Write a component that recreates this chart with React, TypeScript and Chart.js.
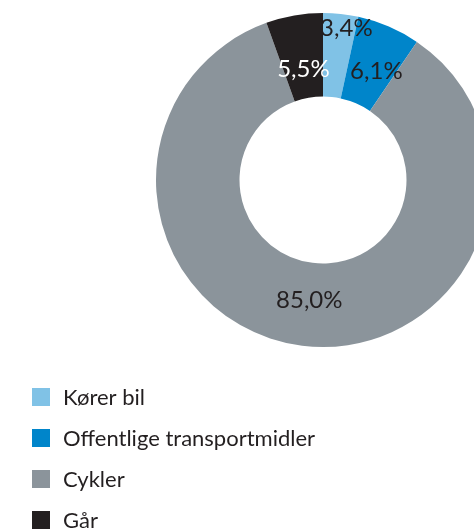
import React, { useEffect, useRef } from "react";
import { Chart, registerables } from "chart.js";

Chart.register(...registerables);

const categories = ["Kører bil", "Offentlige transportmidler", "Cykler", "Går"];
const values = [3.4, 6.1, 85.0, 5.5];
const valueLabels = ["3,4%", "6,1%", "85,0%", "5,5%"];
const colors = ["#80c2e6", "#0085ca", "#8b949b", "#231f20"];
const labelColors = ["#231f20", "#231f20", "#231f20", "#ffffff"];
// label nudges relative to the slice centroid (style only)
const labelNudges = [
  [10, -27],
  [4, 6],
  [2, -4],
  [2, 13],
];

const FONT = "Lato, 'Open Sans', sans-serif";

const labelPlugin = {
  id: "sliceLabels",
  afterDatasetsDraw(chart: any) {
    const ctx = chart.ctx;
    const meta = chart.getDatasetMeta(0);
    ctx.save();
    ctx.font = `24px ${FONT}`;
    ctx.textAlign = "center";
    ctx.textBaseline = "middle";
    meta.data.forEach((arc: any, i: number) => {
      const p = arc.tooltipPosition();
      ctx.fillStyle = labelColors[i];
      ctx.fillText(valueLabels[i], p.x + labelNudges[i][0], p.y + labelNudges[i][1]);
    });
    ctx.restore();
  },
};

const legendPlugin = {
  id: "customLegend",
  afterDraw(chart: any) {
    const ctx = chart.ctx;
    const labels = chart.data.labels as string[];
    const bg = chart.data.datasets[0].backgroundColor as string[];
    ctx.save();
    ctx.font = `22px ${FONT}`;
    ctx.textAlign = "left";
    ctx.textBaseline = "middle";
    const startY = 397;
    const step = 41;
    labels.forEach((lab, i) => {
      const y = startY + i * step;
      ctx.fillStyle = bg[i];
      ctx.fillRect(32, y - 9, 18, 18);
      ctx.fillStyle = "#231f20";
      ctx.fillText(lab, 63, y + 1);
    });
    ctx.restore();
  },
};

export default function App() {
  const ref = useRef<HTMLCanvasElement | null>(null);
  useEffect(() => {
    if (!ref.current) return;
    const chart = new Chart(ref.current, {
      type: "doughnut",
      data: {
        labels: categories,
        datasets: [
          {
            data: values,
            backgroundColor: colors,
            borderWidth: 0,
          },
        ],
      },
      options: {
        responsive: false,
        animation: false,
        cutout: "50%",
        layout: { padding: { left: 156, top: 13, right: 30, bottom: 183 } },
        plugins: {
          legend: { display: false },
          tooltip: { enabled: false },
        },
      },
      plugins: [labelPlugin, legendPlugin],
    });
    return () => chart.destroy();
  }, []);
  return (
    <div
      style={{
        position: "absolute",
        left: 0,
        top: 0,
        width: 474,
        height: 530,
        overflow: "hidden",
        background: "#fff",
      }}
    >
      <canvas ref={ref} width={520} height={530} style={{ display: "block" }} />
    </div>
  );
}
